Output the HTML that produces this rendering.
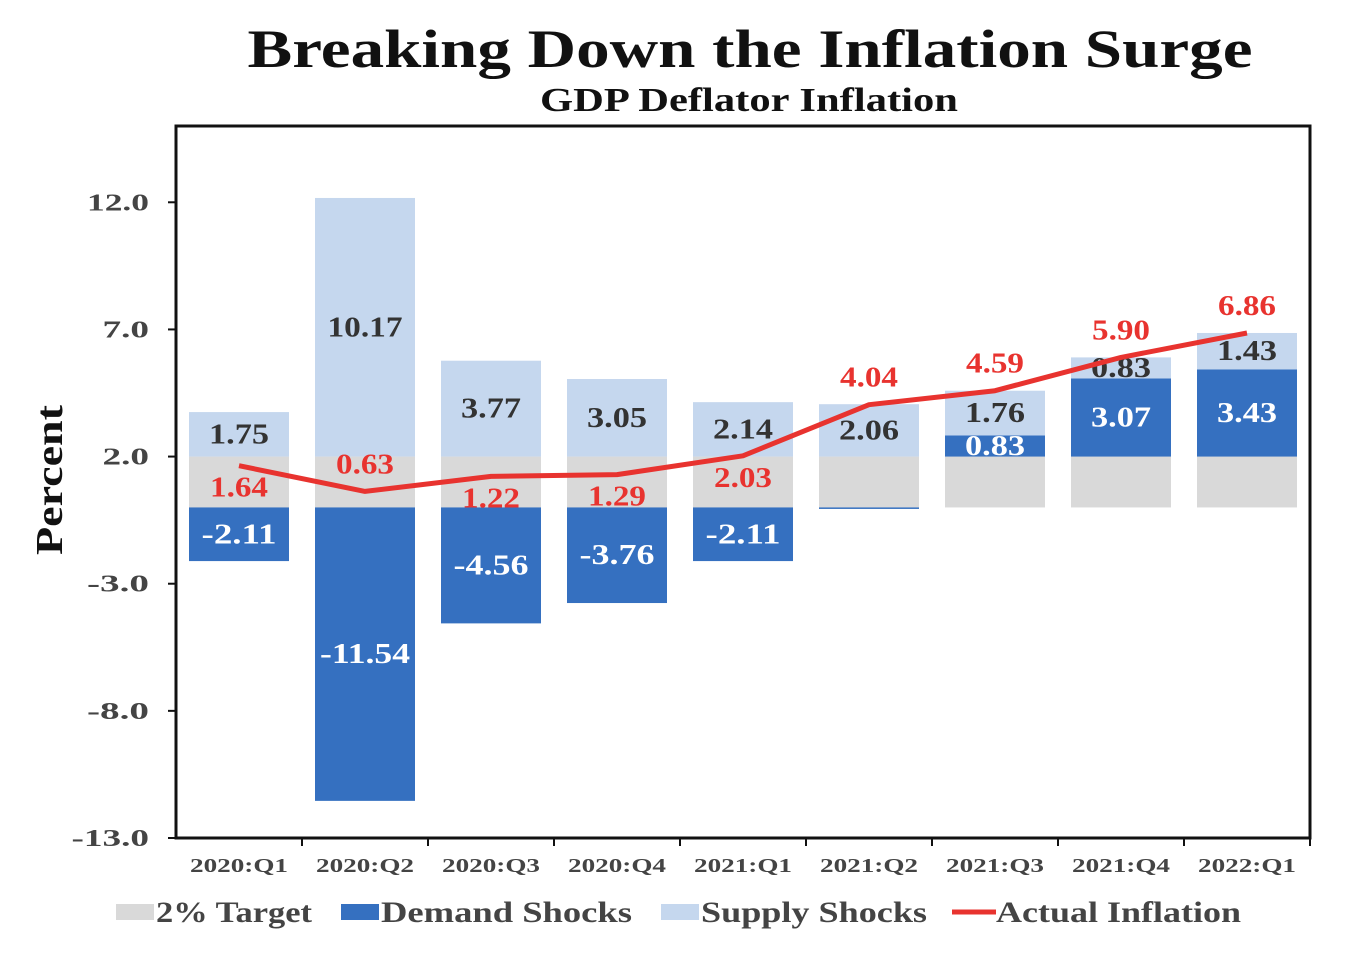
<!DOCTYPE html>
<html><head><meta charset="utf-8"><style>
body{margin:0;background:#fff;}
svg text{font-family:"Liberation Serif",serif;font-weight:bold;}
</style></head><body>
<svg id="chart" width="1366" height="950">
<text x="750" y="67" text-anchor="middle" font-size="54" fill="#111" textLength="1005" lengthAdjust="spacingAndGlyphs">Breaking Down the Inflation Surge</text>
<text x="749" y="111" text-anchor="middle" font-size="34" fill="#111" textLength="418" lengthAdjust="spacingAndGlyphs">GDP Deflator Inflation</text>
<text transform="translate(62,480) rotate(-90)" text-anchor="middle" font-size="38" fill="#111" textLength="150" lengthAdjust="spacingAndGlyphs">Percent</text>
<g id="plot"></g>
<rect x="176" y="126" width="1134" height="712" fill="none" stroke="#111" stroke-width="3"/>
<g id="legend"></g>
</svg>
<script>
const categories=["2020:Q1","2020:Q2","2020:Q3","2020:Q4","2021:Q1","2021:Q2","2021:Q3","2021:Q4","2022:Q1"];
const target=[2,2,2,2,2,2,2,2,2];
const demand=[-2.11,-11.54,-4.56,-3.76,-2.11,-0.02,0.83,3.07,3.43];
const supply=[1.75,10.17,3.77,3.05,2.14,2.06,1.76,0.83,1.43];
const actual=[1.64,0.63,1.22,1.29,2.03,4.04,4.59,5.90,6.86];
const yTicks=[12,7,2,-3,-8,-13];
const actualLabelDy=[1,-1,1,1,1,-1,-1,-1,-1];
const x0=176,pw=1134,yTop=126,yBot=838,yMax=15,yMin=-13;
const NS="http://www.w3.org/2000/svg";
const step=pw/categories.length,bw=100;
const X=i=>x0+step*(i+0.5);
const Y=v=>yTop+(yMax-v)/(yMax-yMin)*(yBot-yTop);
const g=document.getElementById('plot');
function mk(tag,attrs,parent){const e=document.createElementNS(NS,tag);for(const k in attrs)e.setAttribute(k,attrs[k]);(parent||g).appendChild(e);return e;}
function rect(a,b,i,fill,name){const top=Math.min(Y(a),Y(b)),h=Math.abs(Y(a)-Y(b));const r=mk('rect',{x:X(i)-bw/2,y:top,width:bw,height:Math.max(h,1.5),fill:fill});

return r;}
function txt(x,y,s,size,fill,name,anchor,perChar){const t=mk('text',{x:x,y:y,'font-size':size,fill:fill,'text-anchor':anchor||'middle'});t.textContent=s;
if(perChar){t.setAttribute('textLength',perChar*s.length);t.setAttribute('lengthAdjust','spacingAndGlyphs');}

return t;}
yTicks.forEach(v=>{mk('line',{x1:168,x2:176,y1:Y(v),y2:Y(v),stroke:'#111','stroke-width':2});
txt(149,Y(v)+8,v.toFixed(1),24,'#444','y-tick-label','end',15.5);});
categories.forEach((c,i)=>{
 rect(0,target[i],i,'#d9d9d9','target-bar');
 let base=target[i];
 if(demand[i]<0){rect(0,demand[i],i,'#3570c0','demand-bar');}
 else{rect(base,base+demand[i],i,'#3570c0','demand-bar');base+=demand[i];}
 rect(base,base+supply[i],i,'#c5d7ee','supply-bar');
 txt(X(i),(Y(base)+Y(base+supply[i]))/2+9,supply[i].toFixed(2),28,'#333','supply-label','middle',15);
 if(Math.abs(demand[i])>0.1){
  const a=demand[i]<0?0:target[i],b=demand[i]<0?demand[i]:target[i]+demand[i];
  txt(X(i),(Y(a)+Y(b))/2+9,demand[i].toFixed(2),28,'#fff','demand-label','middle',15);}
 txt(X(i),872,c,20,'#444','x-tick-label','middle',14);
 mk('line',{x1:x0+step*(i+1),x2:x0+step*(i+1),y1:838,y2:846,stroke:'#111','stroke-width':2});
});
const pts=actual.map((v,i)=>X(i)+','+Y(v)).join(' ');
const pl=mk('polyline',{points:pts,fill:'none',stroke:'#e8332f','stroke-width':5,'stroke-linejoin':'round'});


actual.forEach((v,i)=>{const dy=actualLabelDy[i]>0?31:-18;
 txt(X(i),Y(v)+dy,v.toFixed(2),28,'#e8332f','actual-label','middle',14.5);});
const lg=document.getElementById('legend');
const items=[['2% Target','#d9d9d9',116,'rect',156],['Demand Shocks','#3570c0',341,'rect',251],['Supply Shocks','#c5d7ee',661,'rect',226],['Actual Inflation','#e8332f',952,'line',245]];
items.forEach(it=>{
 const e=it[3]==='rect'?mk('rect',{x:it[2],y:904,width:38,height:16,fill:it[1]},lg):mk('line',{x1:it[2],x2:it[2]+44,y1:912,y2:912,stroke:it[1],'stroke-width':5},lg);
 
 
 const t=mk('text',{x:it[2]+(it[3]==='rect'?40:44),y:922,'font-size':30,fill:'#444',textLength:it[4],lengthAdjust:'spacingAndGlyphs'},lg);t.textContent=it[0];
 
 
});
</script>
</body></html>
